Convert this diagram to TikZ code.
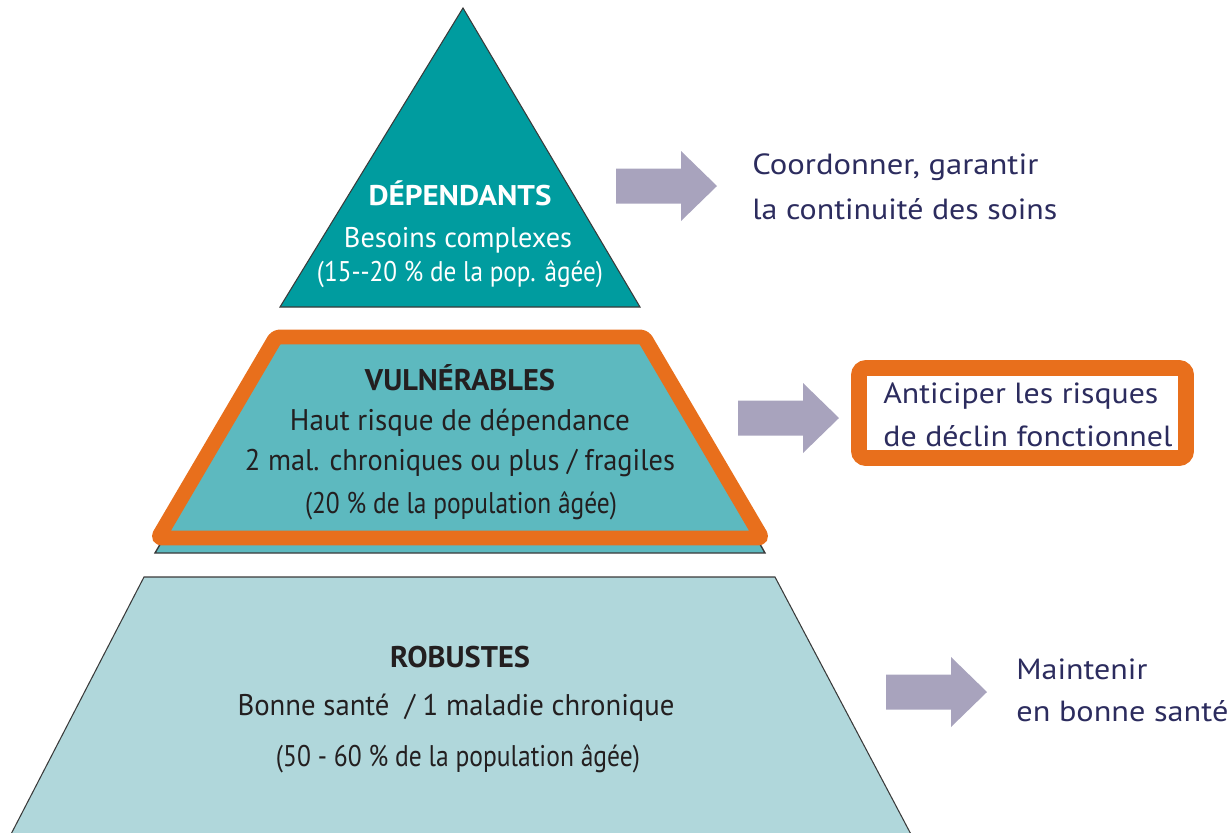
\documentclass[tikz,border=0pt]{standalone}
\usepackage{fontspec}
\usepackage{graphicx}
\setmainfont{PT Sans}
\usetikzlibrary{calc}
\definecolor{topcol}{HTML}{009C9F}
\definecolor{midcol}{HTML}{5DB9BF}
\definecolor{botcol}{HTML}{B0D7DB}
\definecolor{orangecol}{HTML}{E86F1C}
\definecolor{arrowcol}{HTML}{A8A3BD}
\definecolor{navy}{HTML}{2C2C5E}
\definecolor{darktext}{HTML}{231F20}
\definecolor{edge}{HTML}{3A3A3A}
\newlength\pxu
\setlength\pxu{0.02cm}
\newcommand\fitw[2]{\resizebox{#1\pxu}{\height}{#2}}
\newcommand\rarrow[1]{%
  \fill[arrowcol] ($(#1)+(0,-17.5)$) -- ++(65,0) -- ++(0,-17.5) -- ++(36,35) -- ++(-36,35) -- ++(0,-17.5) -- ++(-65,0) -- cycle;}
\tikzset{
  toptxt/.style={anchor=base, inner sep=0, text=white, font=\fontsize{16.2}{17}\selectfont},
  pyrtxt/.style={anchor=base, inner sep=0, text=darktext, font=\fontsize{17}{18}\selectfont},
  righttxt/.style={anchor=base west, inner sep=0, text=navy, font=\fontsize{16.6}{17}\selectfont},
}
\begin{document}
\begin{tikzpicture}[x=0.02cm,y=-0.02cm]
\useasboundingbox (0,0) rectangle (1230,832);
% bottom level
\fill[botcol] (144,577) -- (775,577) -- (914,840) -- (8,840) -- cycle;
\draw[edge, line width=0.6pt] (8,840) -- (144,577) -- (775,577) -- (914,840);
% middle level
\filldraw[fill=midcol, draw=edge, line width=0.8pt] (282,337) -- (643,337) -- (765,553) -- (155,553) -- cycle;
\draw[orangecol, line width=8.5pt, rounded corners=2pt, line join=round] (276,337) -- (644,337) -- (762,538) -- (158,538) -- cycle;
% top level
\filldraw[fill=topcol, draw=edge, line width=0.6pt] (463,8) -- (640,307) -- (280,307) -- cycle;
% texts top
\node[toptxt] (t1) at (460,205) {\fitw{183}{\bfseries DÉPENDANTS}};
\node[toptxt] (t2) at (458,247) {\fitw{228}{Besoins complexes}};
\node[toptxt] (t3) at (460,281) {\fitw{286}{(15-{}-20 \% de la pop. âgée)}};
% texts middle
\node[pyrtxt] (m1) at (460,390) {\fitw{190}{\bfseries VULNÉRABLES}};
\node[pyrtxt] (m2) at (460,430) {\fitw{340}{Haut risque de dépendance}};
\node[pyrtxt] (m3) at (460,470) {\fitw{430}{2 mal. chroniques ou plus / fragiles}};
\node[pyrtxt] (m4) at (461,513) {\fitw{312}{(20 \% de la population âgée)}};
% texts bottom
\node[pyrtxt] (b1) at (460,667) {\fitw{140}{\bfseries ROBUSTES}};
\node[pyrtxt] (b2) at (456,715) {\fitw{437}{Bonne santé \ / 1 maladie chronique}};
\node[pyrtxt] (b3) at (458,766) {\fitw{364}{(50 - 60 \% de la population âgée)}};
% arrows
\coordinate (a1) at (616,186);
\coordinate (a2) at (738,418);
\coordinate (a3) at (886,692);
\rarrow{a1}
\rarrow{a2}
\rarrow{a3}
% right box
\draw[orangecol, fill=white, line width=9pt, rounded corners=4pt] (859,368) rectangle (1186,458);
% right texts
\node[righttxt] (r1) at (752,174) {\fitw{286}{Coordonner, garantir}};
\node[righttxt] (r2) at (752,219) {\fitw{305}{la continuité des soins}};
\node[righttxt] (r3) at (883,403) {\fitw{275}{Anticiper les risques}};
\node[righttxt] (r4) at (883,446) {\fitw{289}{de déclin fonctionnel}};
\node[righttxt] (r5) at (1016,679) {\fitw{131}{Maintenir}};
\node[righttxt] (r6) at (1016,721) {\fitw{212}{en bonne santé}};
\end{tikzpicture}
\end{document}
